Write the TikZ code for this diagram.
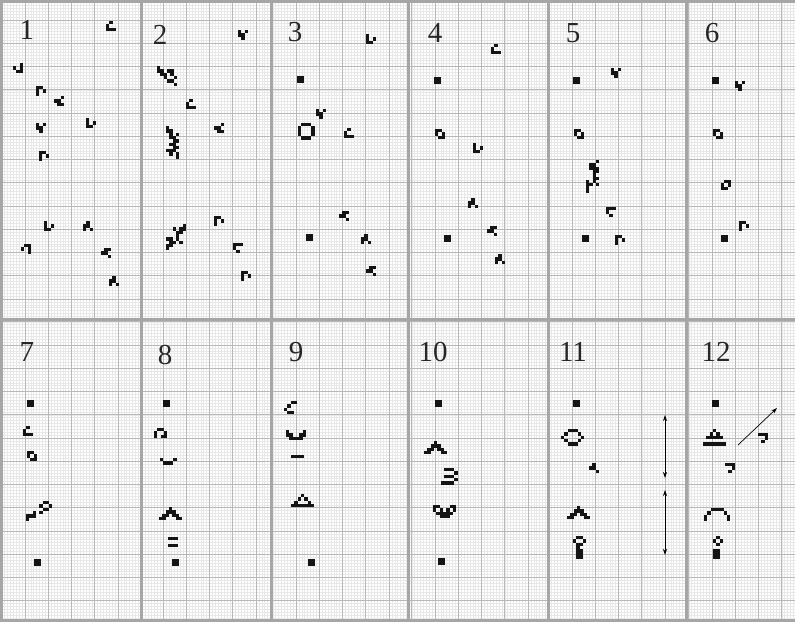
\documentclass[tikz,border=0pt]{standalone}
\usepackage{fontspec}
\setmainfont{Liberation Serif}
\usetikzlibrary{arrows.meta}
\tikzset{
 minorln/.style={draw=black!9, line width=0.5pt},
 majorln/.style={draw=black!28, line width=0.9pt},
 sepln/.style={draw=black!35, line width=3pt},
 lbl/.style={font=\fontsize{29}{29}\selectfont, inner sep=0pt, text=black!85},
 cellfill/.style={fill=black!92},
 arr/.style={-{Stealth[length=6pt,width=4pt]}, line width=0.7pt},
 dblarr/.style={{Stealth[length=6pt,width=4pt]}-{Stealth[length=6pt,width=4pt]}, line width=0.7pt},
}
\newcommand\panelgrid[6]{%
 \begin{scope}
 \clip (#1,#2) rectangle (#3,#4);
 \foreach \k in {-9,...,50} \draw[minorln] ({#5+\k*2.906},#2) -- ({#5+\k*2.906},#4);
 \foreach \k in {-9,...,105} \draw[minorln] (#1,{#6+\k*2.906}) -- (#3,{#6+\k*2.906});
 \foreach \k in {-1,...,6} \draw[majorln] ({#5+\k*23.25},#2) -- ({#5+\k*23.25},#4);
 \foreach \k in {-1,...,13} \draw[majorln] (#1,{#6+\k*23.25}) -- (#3,{#6+\k*23.25});
 \end{scope}}
\newcommand\lifepat[3]{\foreach \i/\j in {#3} \fill[cellfill] ({#1+\i*3.3},{#2+\j*3.3}) rectangle ++(3.35,3.35);}
\newcommand\lifeblock[2]{\lifepat{#1}{#2}{0/0,1/0,0/1,1/1}}
\begin{document}
\begin{tikzpicture}[x=1pt,y=-1pt]
\useasboundingbox (0,0) rectangle (795,625);
\fill[white] (0,0) rectangle (795,625);
% grids
\panelgrid{2}{2}{141.5}{319.5}{25}{20}
\panelgrid{141.5}{2}{271.5}{319.5}{163}{20}
\panelgrid{271.5}{2}{408.5}{319.5}{296}{20}
\panelgrid{408.5}{2}{548}{319.5}{435}{20}
\panelgrid{548}{2}{686}{319.5}{572}{20}
\panelgrid{686}{2}{795}{319.5}{712}{20}
\panelgrid{2}{319.5}{141.5}{620}{25}{345}
\panelgrid{141.5}{319.5}{271.5}{620}{163}{345}
\panelgrid{271.5}{319.5}{408.5}{620}{296}{345}
\panelgrid{408.5}{319.5}{548}{620}{435}{345}
\panelgrid{548}{319.5}{686}{620}{572}{345}
\panelgrid{686}{319.5}{795}{620}{712}{345}
% separators
\draw[sepln] (1.5,620) -- (1.5,1.5) -- (795,1.5);
\draw[sepln] (0,620) -- (795,620);
\draw[sepln] (0,319.5) -- (795,319.5);
\foreach \xx in {141.5,271.5,408.5,548,686} \draw[sepln] (\xx,0) -- (\xx,621);
% labels
\node[lbl] (l1) at (27,30) {1};
\node[lbl] (l2) at (160,35) {2};
\node[lbl] (l3) at (295,32) {3};
\node[lbl] (l4) at (435,33) {4};
\node[lbl] (l5) at (573,33) {5};
\node[lbl] (l6) at (712,33) {6};
\node[lbl] (l7) at (27,352) {7};
\node[lbl] (l8) at (165,355) {8};
\node[lbl] (l9) at (296,352) {9};
\node[lbl] (l10) at (433,352) {10};
\node[lbl] (l11) at (573,352) {11};
\node[lbl] (l12) at (716,352) {12};
% panel 1
\lifepat{106}{21}{1/0,0/1,0/2,1/2,2/2}
\lifepat{13}{63}{2/0,0/1,2/1,1/2,2/2}
\lifepat{36}{86}{0/0,1/0,0/1,2/1,0/2}
\lifepat{54}{96}{2/0,0/1,1/1,1/2,2/2}
\lifepat{36}{123}{0/0,2/0,0/1,1/1,1/2}
\lifepat{86}{118}{0/0,0/1,2/1,0/2,1/2}
\lifepat{39}{151}{0/0,1/0,0/1,2/1,0/2}
\lifepat{44}{221}{0/0,0/1,2/1,0/2,1/2}
\lifepat{83}{221}{1/0,0/1,1/1,0/2,2/2}
\lifepat{21}{244}{1/0,2/0,0/1,2/1,2/2}
\lifepat{101}{248}{1/0,2/0,0/1,1/1,2/2}
\lifepat{109}{276}{1/0,0/1,1/1,0/2,2/2}
% panel 2
\lifepat{238}{30}{0/0,2/0,0/1,1/1,1/2}
\lifepat{157}{66}{0/0,0/1,1/1,3/1,4/1,1/2,2/2,4/2,2/3,5/3,3/4,4/4,5/5}
\lifepat{186}{99}{1/0,0/1,0/2,1/2,2/2}
\lifepat{214}{123}{2/0,0/1,1/1,1/2,2/2}
\lifepat{166}{126}{0/0,0/1,1/1,1/2,3/2,1/3,2/3,2/4,3/4,1/5,2/5,2/6,3/6,0/7,1/7,2/7,1/8,3/8,3/9}
\lifepat{214}{216}{0/0,1/0,0/1,2/1,0/2}
\lifepat{166}{224}{5/0,2/1,4/1,5/1,3/2,4/2,3/3,0/4,1/4,3/4,1/5,2/5,4/5,0/6,1/6,0/7}
\lifepat{233}{243}{0/0,1/0,2/0,0/1,1/2}
\lifepat{241}{271}{0/0,1/0,0/1,2/1,0/2}
% panel 3
\lifepat{366}{34}{0/0,0/1,2/1,0/2,1/2}
\lifeblock{297}{76}
\lifepat{316}{109}{0/0,2/0,0/1,1/1,1/2}
\lifepat{298}{123}{1/0,2/0,3/0,0/1,4/1,0/2,4/2,0/3,4/3,1/4,2/4,3/4}
\lifepat{344}{128}{1/0,0/1,0/2,1/2,2/2}
\lifepat{339}{211}{1/0,2/0,0/1,1/1,2/2}
\lifeblock{306}{234}
\lifepat{361}{234}{1/0,0/1,1/1,0/2,2/2}
\lifepat{366}{266}{1/0,2/0,0/1,1/1,2/2}
% panel 4
\lifepat{491}{44}{1/0,0/1,0/2,1/2,2/2}
\lifeblock{434}{77}
\lifepat{435}{129}{0/0,1/0,0/1,2/1,1/2,2/2}
\lifepat{473}{143}{0/0,0/1,2/1,0/2,1/2}
\lifepat{468}{198}{1/0,0/1,1/1,0/2,2/2}
\lifepat{487}{226}{1/0,2/0,0/1,1/1,2/2}
\lifeblock{444}{235}
\lifepat{495}{254}{1/0,0/1,1/1,0/2,2/2}
% panel 5
\lifepat{611}{68}{0/0,2/0,0/1,1/1,1/2}
\lifeblock{573}{77}
\lifepat{574}{129}{0/0,1/0,0/1,2/1,1/2,2/2}
\lifepat{586}{160}{3/0,1/1,2/1,1/2,2/2,3/2,2/3,3/3,2/4,2/5,3/5,0/6,2/6,0/7,1/7,3/7,0/8,0/9}
\lifepat{606}{207}{0/0,1/0,2/0,0/1,1/2}
\lifeblock{582}{235}
\lifepat{615}{235}{0/0,1/0,0/1,2/1,0/2}
% panel 6
\lifeblock{712}{77}
\lifepat{735}{81}{0/0,2/0,0/1,1/1,1/2}
\lifepat{713}{129}{0/0,1/0,0/1,2/1,1/2,2/2}
\lifepat{721}{180}{1/0,2/0,0/1,2/1,0/2,1/2}
\lifepat{739}{221}{0/0,1/0,0/1,2/1,0/2}
\lifeblock{721}{235}
% panel 7
\lifeblock{27}{400}
\lifepat{23}{426}{1/0,0/1,0/2,1/2,2/2}
\lifepat{27}{451}{0/0,1/0,0/1,2/1,1/2,2/2}
\lifepat{26}{501}{5/0,6/0,4/1,7/1,5/2,6/2,2/3,4/3,0/4,1/4,2/4,0/5}
\lifeblock{34}{559}
% panel 8
\lifeblock{163}{400}
\lifepat{154}{428}{1/0,2/0,0/1,3/1,0/2,2/2,3/2}
\lifepat{160}{458}{0/0,4/0,1/1,2/1,3/1}
\lifepat{159}{507}{3/0,2/1,3/1,4/1,1/2,2/2,4/2,5/2,0/3,1/3,5/3,6/3}
\lifepat{168}{537}{0/0,1/0,2/0,0/2,1/2,2/2}
\lifeblock{172}{559}
% panel 9
\lifepat{284}{401}{2/0,3/0,1/1,0/2,1/3,2/3}
\lifepat{286}{430}{0/0,5/0,0/1,1/1,4/1,5/1,1/2,2/2,3/2,4/2}
\lifepat{291}{455}{0/0,1/0,2/0,3/0}
\lifepat{291}{494}{3/0,2/1,4/1,1/2,5/2,0/3,1/3,2/3,3/3,4/3,5/3,6/3}
\lifeblock{308}{559}
% panel 10
\lifeblock{435}{400}
\lifepat{424}{441}{3/0,2/1,3/1,4/1,1/2,2/2,4/2,5/2,0/3,1/3,5/3,6/3}
\lifepat{441}{468}{1/0,2/0,3/0,4/1,1/2,2/2,3/2,4/3,0/4,1/4,2/4,3/4}
\lifepat{433}{505}{0/0,1/0,5/0,6/0,0/1,2/1,4/1,6/1,1/2,2/2,3/2,4/2,5/2,2/3,3/3,4/3}
\lifeblock{438}{558}
% panel 11
\lifeblock{573}{400}
\lifepat{561}{429}{2/0,3/0,4/0,1/1,5/1,0/2,6/2,1/3,5/3,2/4,3/4,4/4}
\lifepat{589}{463}{1/0,0/1,1/1,2/2}
\lifepat{567}{506}{3/0,2/1,3/1,4/1,1/2,2/2,4/2,5/2,0/3,1/3,5/3,6/3}
\lifepat{573}{536}{1/0,2/0,0/1,3/1,1/2,2/2,1/3,1/4,2/4,1/5,2/5,1/6,2/6}
\coordinate (a1s) at (665,415);
\coordinate (a1e) at (665,478);
\coordinate (a2s) at (665,490);
\coordinate (a2e) at (665,555);
\draw[dblarr] (a1s) -- (a1e);
\draw[dblarr] (a2s) -- (a2e);
% panel 12
\lifeblock{712}{400}
\lifepat{703}{429}{3/0,2/1,4/1,1/2,2/2,3/2,4/2,5/2,0/4,1/4,2/4,3/4,4/4,5/4,6/4}
\lifepat{758}{433}{0/0,1/0,2/0,2/1,1/2}
\lifepat{725}{463}{0/0,1/0,2/0,2/1,1/2}
\lifepat{704}{508}{2/0,3/0,4/0,5/0,1/1,6/1,0/2,7/2,0/3,7/3}
\lifepat{713}{536}{1/0,0/1,2/1,1/2,0/4,1/4,0/5,1/5,0/6,1/6}
\coordinate (b1s) at (738,445);
\coordinate (b1e) at (777,408);
\draw[arr] (b1s) -- (b1e);
\end{tikzpicture}
\end{document}
